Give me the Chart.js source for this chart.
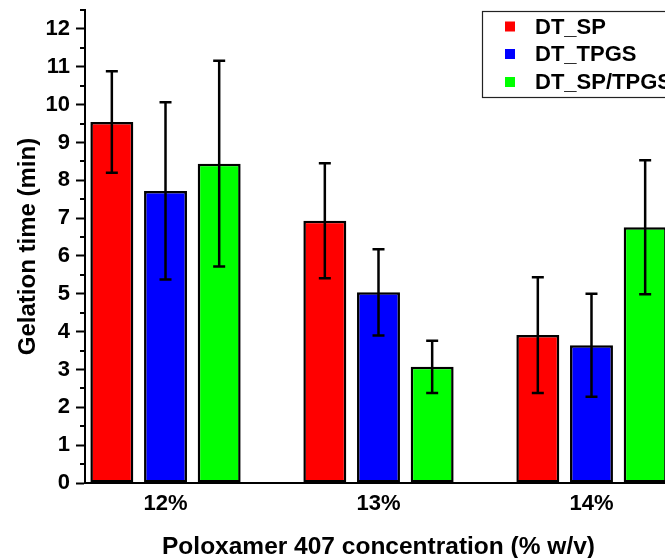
<!DOCTYPE html>
<html>
<head>
<meta charset="utf-8">
<script src="https://cdn.jsdelivr.net/npm/chart.js@4/dist/chart.umd.min.js"></script>
<style>
  html, body { margin: 0; padding: 0; background: #ffffff; overflow: hidden; width: 665px; height: 558px; }
  canvas { display: block; }
</style>
</head>
<body>
<canvas id="c" width="700" height="558"></canvas>
<script>
// ---- data ----
const categories = ['12%', '13%', '14%'];
const seriesNames = ['DT_SP', 'DT_TPGS', 'DT_SP/TPGS'];
const spValues = [9.54, 6.93, 3.91];
const spErrors = [1.34, 1.52, 1.53];
const tpgsValues = [7.72, 5.04, 3.64];
const tpgsErrors = [2.34, 1.14, 1.36];
const mixValues = [8.44, 3.07, 6.76];
const mixErrors = [2.72, 0.69, 1.77];
const yTicks = [0, 1, 2, 3, 4, 5, 6, 7, 8, 9, 10, 11, 12];
const yMinorTicks = [0.5, 1.5, 2.5, 3.5, 4.5, 5.5, 6.5, 7.5, 8.5, 9.5, 10.5, 11.5, 12.5];

const colors = ['#ff0000', '#0000ff', '#00ff00'];
const FONT = "'Liberation Sans', Arial, sans-serif";

const allValues = [spValues, tpgsValues, mixValues];
const allErrors = [spErrors, tpgsErrors, mixErrors];

const datasets = allValues.map((vals, k) => ({
  label: seriesNames[k],
  data: vals.map((v, i) => ({ x: i, y: v })),
  backgroundColor: colors[k],
  borderColor: '#000000',
  borderWidth: 2.5,
  borderSkipped: false,
  categoryPercentage: 0.756,
  barPercentage: 0.8,
  errors: allErrors[k]
}));

const errorBarPlugin = {
  id: 'errorBars',
  afterDatasetsDraw(chart) {
    const ctx = chart.ctx;
    const ys = chart.scales.y;
    ctx.save();
    ctx.strokeStyle = '#000000';
    ctx.lineWidth = 2.5;
    ctx.lineCap = 'butt';
    chart.data.datasets.forEach((ds, k) => {
      const meta = chart.getDatasetMeta(k);
      meta.data.forEach((bar, i) => {
        const v = ds.data[i].y, e = ds.errors[i];
        const x = bar.x;
        const yt = ys.getPixelForValue(v + e);
        const yb = ys.getPixelForValue(v - e);
        ctx.beginPath();
        ctx.moveTo(x, yt); ctx.lineTo(x, yb);
        ctx.moveTo(x - 6, yt); ctx.lineTo(x + 6, yt);
        ctx.moveTo(x - 6, yb); ctx.lineTo(x + 6, yb);
        ctx.stroke();
      });
    });
    ctx.restore();
  }
};

const minorTickPlugin = {
  id: 'minorTicks',
  afterDraw(chart) {
    const ctx = chart.ctx;
    const ys = chart.scales.y;
    const x0 = chart.chartArea.left;
    ctx.save();
    ctx.strokeStyle = '#000000';
    ctx.lineWidth = 2;
    yMinorTicks.forEach(t => {
      const y = Math.round(ys.getPixelForValue(t));
      ctx.beginPath();
      ctx.moveTo(x0 - 5, y); ctx.lineTo(x0, y);
      ctx.stroke();
    });
    ctx.restore();
  }
};

const legendPlugin = {
  id: 'boxLegend',
  afterDraw(chart) {
    const ctx = chart.ctx;
    ctx.save();
    ctx.strokeStyle = '#222222';
    ctx.lineWidth = 1.2;
    ctx.strokeRect(482.5, 11.5, 240, 86);
    const rows = [26.5, 54, 82];
    ctx.font = 'bold 22px ' + FONT;
    ctx.textBaseline = 'middle';
    ctx.textAlign = 'left';
    chart.data.datasets.forEach((ds, k) => {
      ctx.fillStyle = ds.backgroundColor;
      ctx.fillRect(505, rows[k] - 5, 10, 10);
      ctx.fillStyle = '#000000';
      ctx.fillText(ds.label, 535, rows[k] + 1);
    });
    ctx.restore();
  }
};

new Chart(document.getElementById('c'), {
  type: 'bar',
  data: { datasets },
  options: {
    responsive: false,
    animation: false,
    devicePixelRatio: 1,
    layout: { padding: { top: 10, left: 0, right: 28, bottom: 0 } },
    plugins: {
      legend: { display: false },
      tooltip: { enabled: false }
    },
    scales: {
      x: {
        type: 'linear',
        offset: false,
        min: -0.378,
        max: 2.378,
        afterBuildTicks: (axis) => { axis.ticks = categories.map((c, i) => ({ value: i })); },
        afterFit: (scale) => { scale.height = 75; scale.paddingLeft = 0; scale.paddingRight = 0; },
        grid: { display: false, drawTicks: false },
        border: { display: true, color: '#000000', width: 2 },
        ticks: {
          padding: 8,
          color: '#000000',
          font: { family: FONT, size: 22, weight: 'bold' },
          callback: (v) => categories[v]
        },
        title: {
          display: true,
          text: 'Poloxamer 407 concentration (% w/v)',
          color: '#000000',
          font: { family: FONT, size: 24.5, weight: 'bold', lineHeight: 0.85 },
          padding: { top: 0, bottom: 0 }
        }
      },
      y: {
        min: 0,
        max: 12.5,
        afterBuildTicks: (axis) => { axis.ticks = yTicks.map(v => ({ value: v })); },
        afterFit: (scale) => { scale.width = 85; scale.paddingTop = 0; scale.paddingBottom = 0; },
        grid: { display: true, drawOnChartArea: false, drawTicks: true, tickLength: 9, tickWidth: 2, tickColor: '#000000' },
        border: { display: true, color: '#000000', width: 2 },
        ticks: {
          padding: 6,
          color: '#000000',
          font: { family: FONT, size: 22, weight: 'bold' }
        },
        title: {
          display: true,
          text: 'Gelation time (min)',
          color: '#000000',
          font: { family: FONT, size: 24, weight: 'bold', lineHeight: 0.85 },
          padding: { top: 18, bottom: 0 }
        }
      }
    }
  },
  plugins: [errorBarPlugin, minorTickPlugin, legendPlugin]
});
</script>
</body>
</html>
